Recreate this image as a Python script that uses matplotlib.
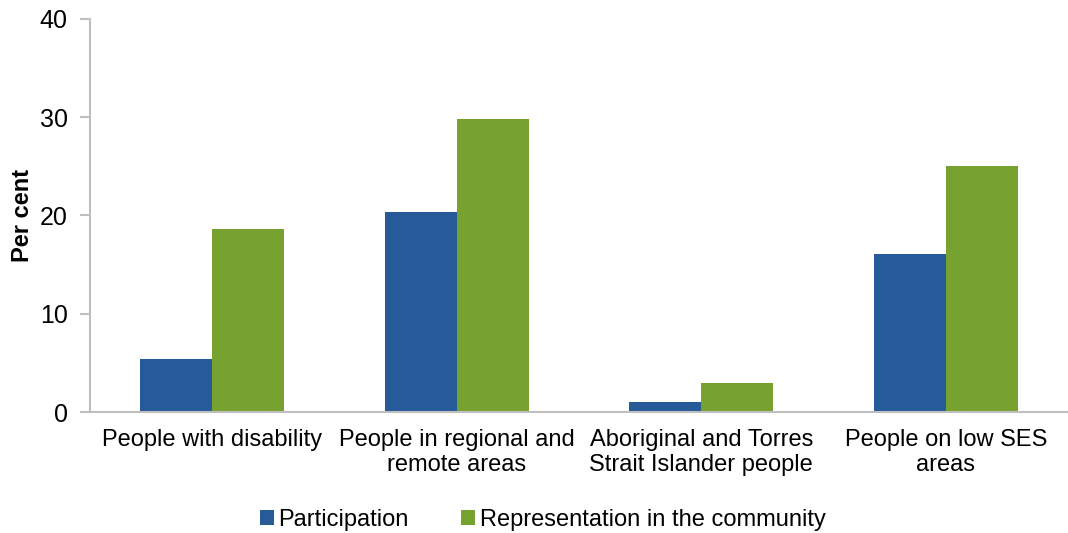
import matplotlib
matplotlib.use("Agg")
import matplotlib.pyplot as plt
import numpy as np

categories = ["People with disability", "People in regional and\nremote areas",
              "Aboriginal and Torres\nStrait Islander people", "People on low SES\nareas"]
participation = [5.4, 20.4, 1.0, 16.1]
representation = [18.6, 29.8, 3.0, 25.0]
series_names = ["Participation", "Representation in the community"]
yticks = [0, 10, 20, 30, 40]

plt.rcParams['font.family'] = ['Liberation Sans', 'DejaVu Sans']

fig = plt.figure(figsize=(10.68, 5.33), dpi=100)
ax = fig.add_axes([90/1068, (533-412)/533, 1 - 90/1068, (412-19)/533])

x = np.arange(len(categories))
w = 0.295
blue = "#275A99"
green = "#78A22F"
ax.bar(x - w/2, participation, w, color=blue, label=series_names[0])
ax.bar(x + w/2, representation, w, color=green, label=series_names[1])

ax.set_xlim(-0.5, len(categories) - 0.5)
ax.set_ylim(0, 40)
ax.set_yticks(yticks)
ax.set_xticks(x)
ax.set_xticklabels(categories, fontsize=17, linespacing=1.2)
ax.tick_params(axis='x', length=0, pad=12)
ax.tick_params(axis='y', labelsize=18, length=7, width=1.5, pad=9, color="#BFBFBF", labelcolor="black")
for s in ["top", "right"]:
    ax.spines[s].set_visible(False)
for s in ["left", "bottom"]:
    ax.spines[s].set_color("#BFBFBF")
    ax.spines[s].set_linewidth(1.5)
ax.set_ylabel("Per cent", fontsize=17, fontweight="bold", labelpad=4)

leg = fig.legend(loc="center", bbox_to_anchor=(0.508, 0.025), ncol=2, frameon=False,
                 fontsize=17, handlelength=0.6, handleheight=0.6, handletextpad=0.2,
                 columnspacing=2.2)

fig.savefig("out.png", dpi=100)
